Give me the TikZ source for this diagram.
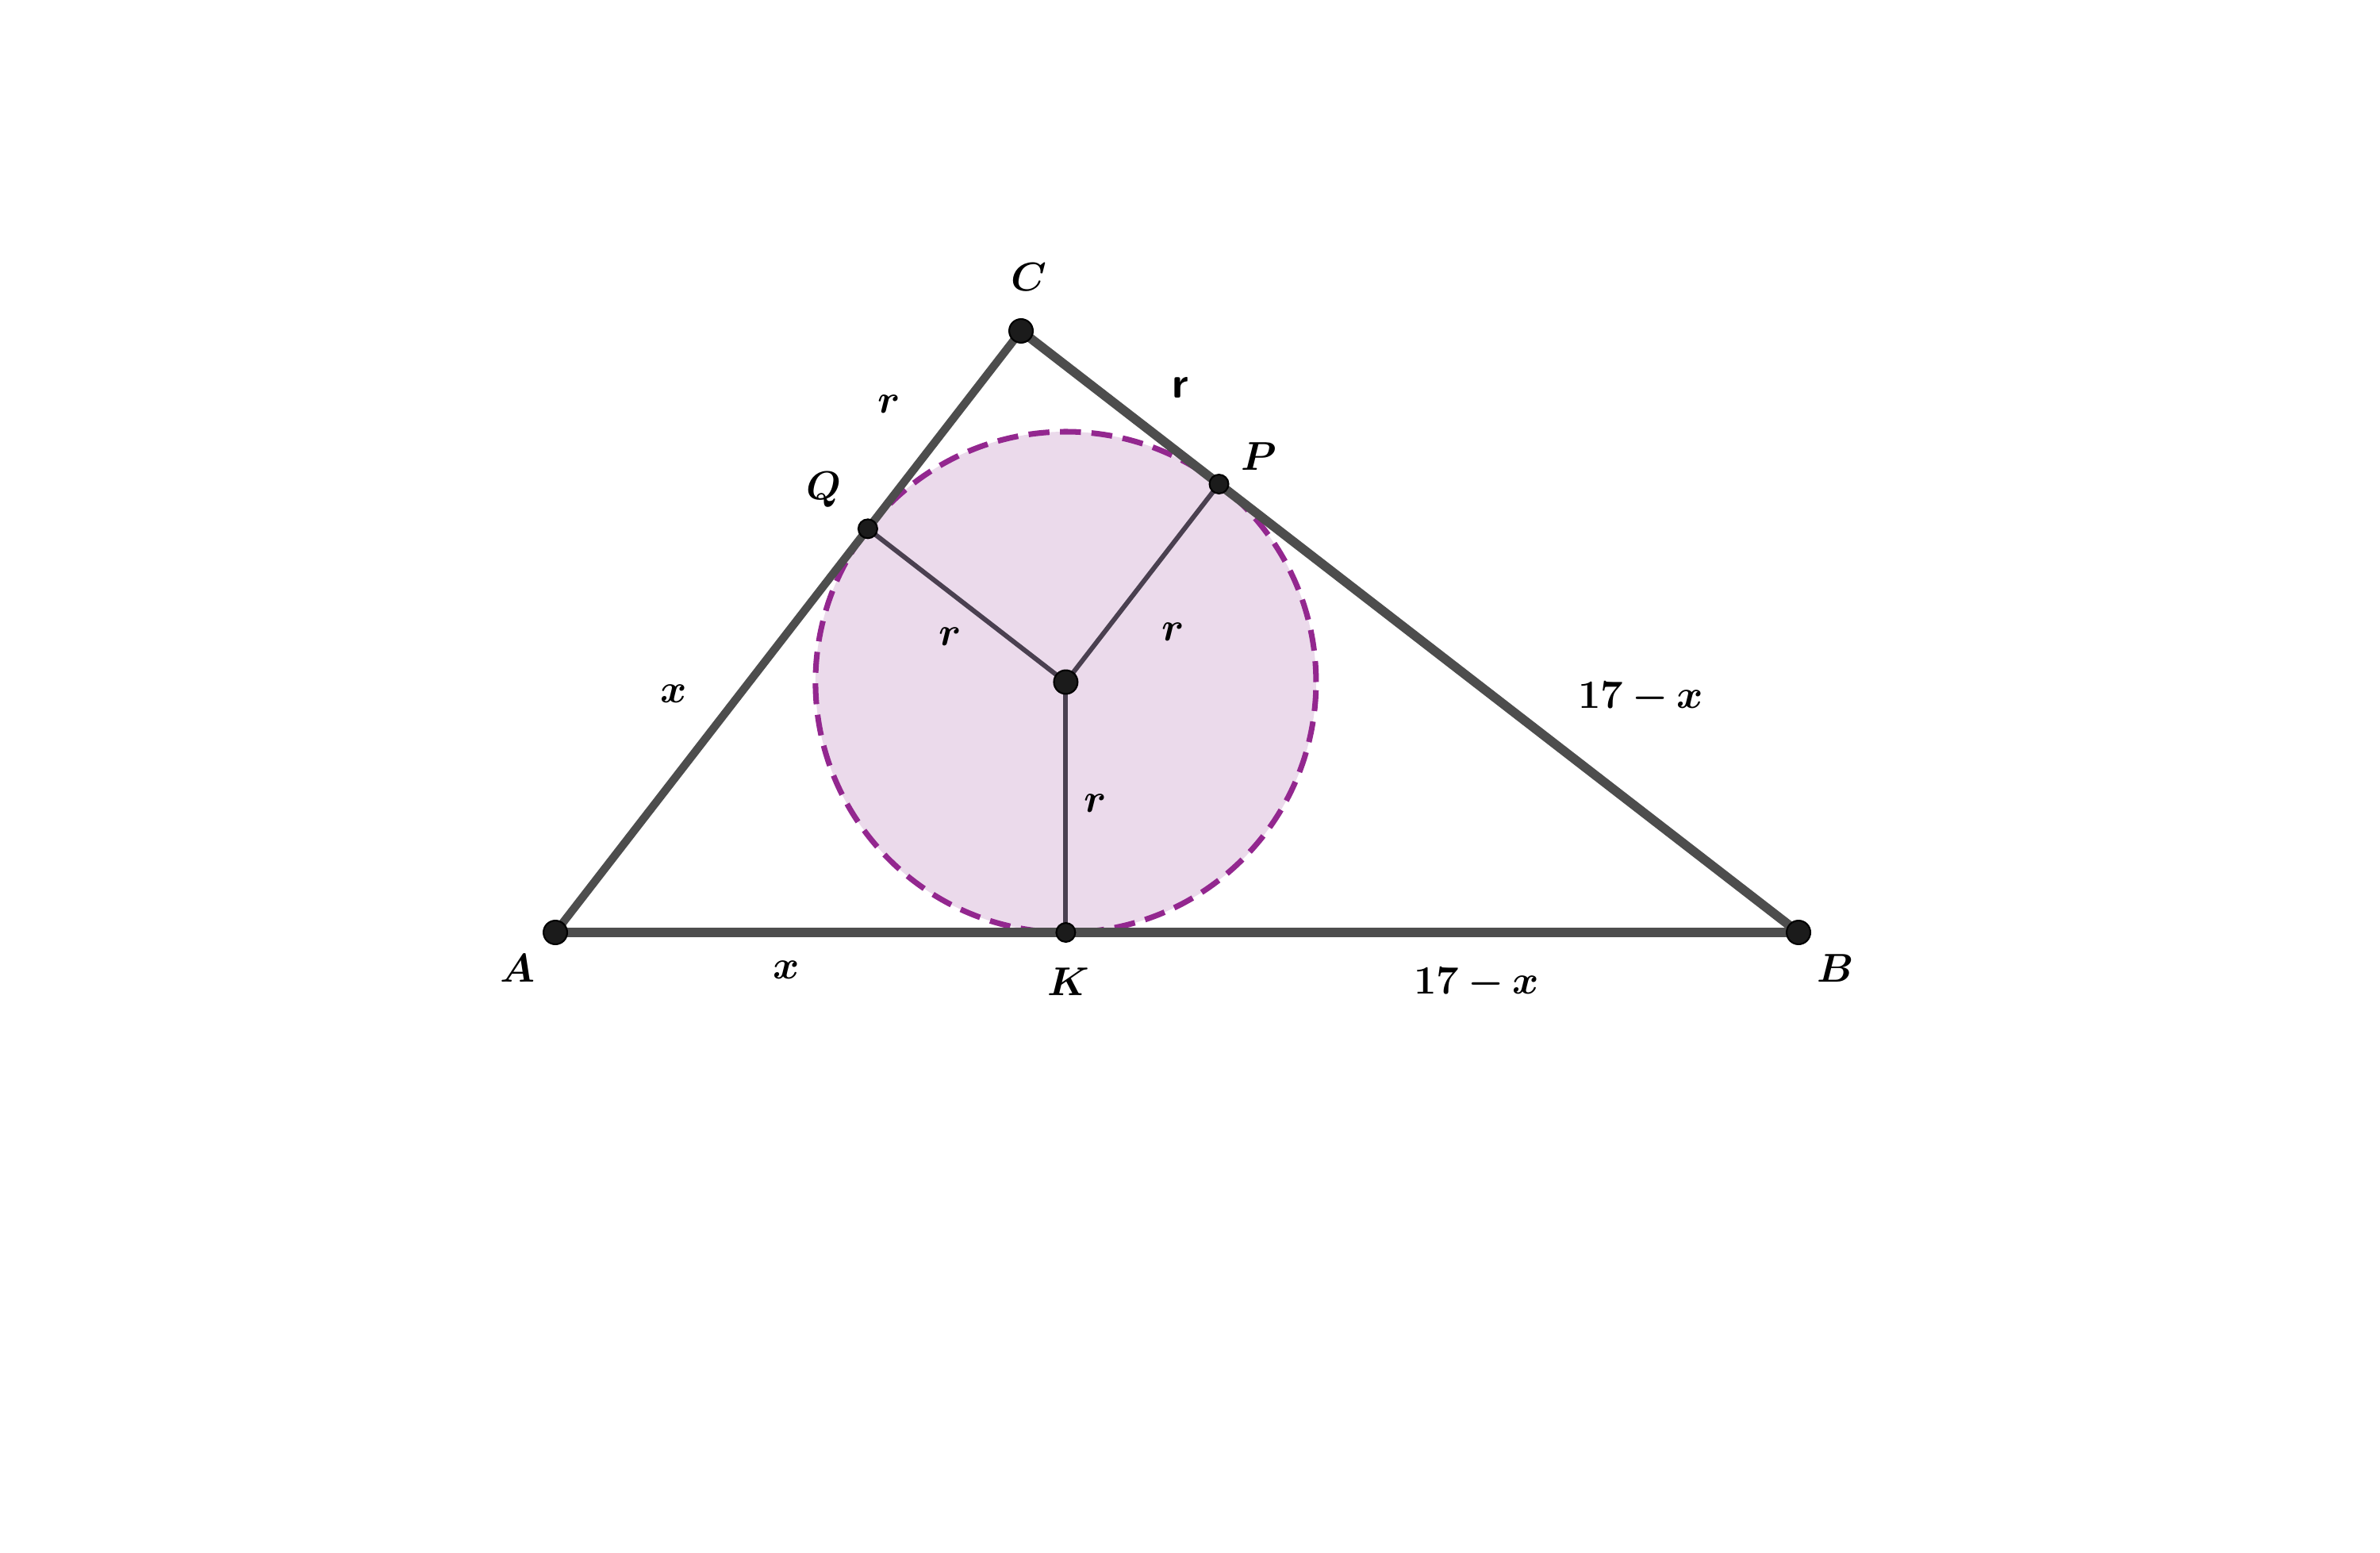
\documentclass[tikz,border=0pt]{standalone}
\usepackage{amssymb,amsmath,bm}
\usetikzlibrary{calc,positioning,backgrounds}
\definecolor{sidegray}{RGB}{77,77,77}
\definecolor{radgray}{RGB}{74,64,80}
\definecolor{circedge}{RGB}{147,39,143}
\definecolor{circfill}{RGB}{235,218,235}
\definecolor{dotblack}{RGB}{27,27,27}
\tikzset{side/.style = {draw=sidegray, line width=2.9pt},
        radius/.style = {draw=radgray, line width=1.7pt},
    incirc/.style = {draw=circedge, fill=circfill, line width=2pt, dash pattern=on 7.5pt off 3.8pt},
    bigdot/.style = {circle, fill=dotblack, draw=black, line width=0.6pt, minimum size=8.5pt, inner sep=0pt},
    smalldot/.style = {bigdot, minimum size=6.8pt},
    lbl/.style = {font=\fontsize{15.8}{19}\selectfont, inner sep=1pt}
}
\begin{document}
\begin{tikzpicture}
    \useasboundingbox (0,0) rectangle (30,19.56);
    \coordinate (A) at (7.00,7.81);
    \coordinate (B) at (22.67,7.81);
    \coordinate (C) at (12.87,15.39);
    \coordinate (O) at (13.434,10.965);
    \def \rad {3.155cm}
    \coordinate (K) at ($(A)!(O)!(B)$);
    \coordinate (Q) at ($(A)!(O)!(C)$);
    \coordinate (P) at ($(B)!(O)!(C)$);
    % incircle
    \draw[incirc] (O) circle (\rad);
    % triangle
    \draw[side] (A) -- (C);
    \draw[side, line width=3.3pt] (C) -- (B);
    \draw[side, line width=3.4pt] (A) -- (B);
    % radii
    \draw[radius] (O) -- (Q);
    \draw[radius] (O) -- (P);
    \draw[radius] (O) -- (K);
    % points
    \node[bigdot] (dotA) at (A) {};
    \node[bigdot] (dotB) at (B) {};
    \node[bigdot] (dotC) at (C) {};
    \node[bigdot] (dotO) at (O) {};
    \node[smalldot] (dotQ) at (Q) {};
    \node[smalldot] (dotP) at (P) {};
    \node[smalldot] (dotK) at (K) {};

    \node[lbl, above=.3cm of dotC, xshift=.1cm] (labC) {$\bm{C}$};
    \node[lbl, below left=.12cm and .1cm of dotA] (labA) {$\bm{A}$};
    \node[lbl, below right=.12cm and .08cm of dotB] (labB) {$\bm{B}$};
    \node[lbl, below=.28cm of dotK, xshift=.03cm] (labK) {$\bm{K}$};
    \node[lbl, above right=.04cm and .15cm of dotP] (labP) {$\bm{P}$};
    \node[lbl, above left=.14cm and .2cm of dotQ] (labQ) {$\bm{Q}$};
    \node[lbl] (rCQ) at (11.21,14.47) {$\bm{r}$};
    \node[lbl] (rCP) at (14.88,14.68) {\sffamily\bfseries r};
    \node[lbl] (rOQ) at (11.98,11.54) {$\bm{r}$};
    \node[lbl] (rOP) at (14.79,11.60) {$\bm{r}$};
    \node[lbl] (rOK) at (13.81,9.44) {$\bm{r}$};
    \node[lbl] (xAC) at (8.49,10.82) {$\bm{x}$};
    \node[lbl] (xAB) at (9.91,7.34) {$\bm{x}$};
    \node[lbl] (yBC) at (20.68,10.76) {$\bm{17-x}$};
    \node[lbl] (yAB) at (18.61,7.16) {$\bm{17-x}$};
\end{tikzpicture}
\end{document}
